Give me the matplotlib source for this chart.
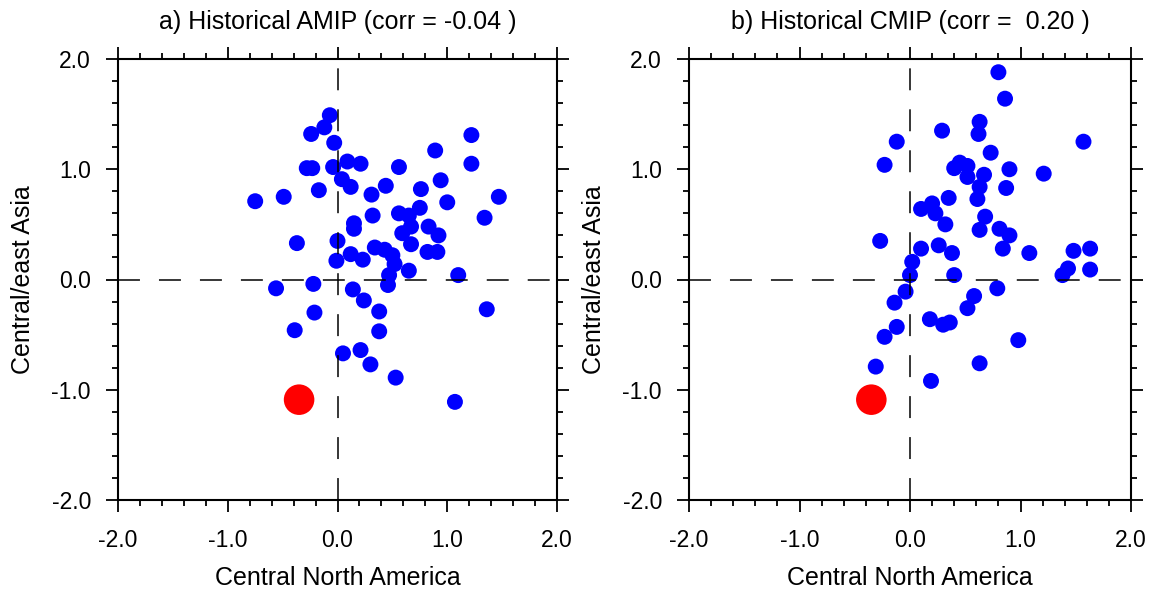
import matplotlib
matplotlib.use("Agg")
import matplotlib.pyplot as plt
from matplotlib.ticker import MultipleLocator, FormatStrFormatter

plt.rcParams['font.family'] = ['Liberation Sans', 'DejaVu Sans']
plt.rcParams['lines.scale_dashes'] = False

# ---- data ----
amip_x = [-0.07, -0.12, -0.24, -0.03, -0.28, -0.23, -0.04, 0.09, 0.21, 0.56,
          0.89, 1.22, 1.22, 0.04, 0.12, -0.17, 0.44, 0.31, 0.76, 0.94,
          1.00, 1.47, -0.75, -0.49, 0.32, 0.56, 0.65, 0.75, 1.34, 0.15,
          0.15, 0.67, 0.59, 0.83, 0.92, -0.37, 0.00, 0.67, 0.82, 0.91,
          -0.01, 0.12, 0.23, 0.34, 0.43, 0.50, 0.52, 0.47, 0.65, 1.10,
          -0.56, -0.22, 0.14, 0.46, 0.24, 0.38, -0.21, 1.36, -0.39, 0.38,
          0.05, 0.21, 0.30, 0.53, 1.07]
amip_y = [1.49, 1.38, 1.32, 1.24, 1.01, 1.01, 1.02, 1.07, 1.05, 1.02,
          1.17, 1.31, 1.05, 0.91, 0.84, 0.81, 0.85, 0.77, 0.82, 0.90,
          0.70, 0.75, 0.71, 0.75, 0.58, 0.60, 0.58, 0.65, 0.56, 0.51,
          0.46, 0.48, 0.42, 0.48, 0.40, 0.33, 0.35, 0.32, 0.25, 0.25,
          0.17, 0.23, 0.18, 0.29, 0.27, 0.22, 0.14, 0.04, 0.08, 0.04,
          -0.08, -0.04, -0.09, -0.05, -0.19, -0.29, -0.30, -0.27, -0.46, -0.47,
          -0.67, -0.64, -0.77, -0.89, -1.11]

cmip_x = [0.80, 0.86, 0.63, 0.62, 0.29, -0.12, 1.57, -0.23, 0.73, 0.45,
          0.40, 0.52, 0.52, 0.67, 0.90, 1.21, 0.63, 0.87, 0.61, 0.35,
          0.10, 0.20, 0.23, 0.68, 0.32, 0.63, 0.81, 0.90, 0.84, -0.27,
          0.10, 0.26, 0.38, 1.08, 1.48, 1.63, 0.02, 0.00, 0.40, 1.43,
          1.38, 1.63, -0.04, 0.79, -0.14, 0.58, 0.52, 0.18, 0.30, 0.36,
          -0.12, -0.23, 0.98, -0.31, 0.63, 0.19]
cmip_y = [1.88, 1.64, 1.43, 1.32, 1.35, 1.25, 1.25, 1.04, 1.15, 1.06,
          1.01, 1.03, 0.93, 0.95, 1.00, 0.96, 0.84, 0.83, 0.73, 0.74,
          0.64, 0.69, 0.60, 0.57, 0.50, 0.45, 0.46, 0.40, 0.28, 0.35,
          0.28, 0.31, 0.24, 0.24, 0.26, 0.28, 0.16, 0.04, 0.04, 0.10,
          0.04, 0.09, -0.11, -0.08, -0.21, -0.15, -0.26, -0.36, -0.41, -0.39,
          -0.43, -0.52, -0.55, -0.79, -0.76, -0.92]

obs_x = [-0.35]
obs_y = [-1.09]

titles = ["a) Historical AMIP (corr = -0.04 )", "b) Historical CMIP (corr =  0.20 )"]
xlabel = "Central North America"
ylabel = "Central/east Asia"

# ---- figure ----
W, H = 1156, 594
fig = plt.figure(figsize=(W / 100, H / 100), dpi=100)

panels = [
    (118, 439, amip_x, amip_y, titles[0]),
    (689, 442, cmip_x, cmip_y, titles[1]),
]
top_px, bot_px = 59, 500

for left, width, xs, ys, title in panels:
    ax = fig.add_axes([left / W, (H - bot_px) / H, width / W, (bot_px - top_px) / H])
    ax.scatter(xs, ys, s=132, color='#0000ff', edgecolors='none', zorder=2)
    ax.scatter(obs_x, obs_y, s=484, color='#ff0000', edgecolors='none', zorder=2)
    ax.axhline(0, color='black', lw=1.1, linestyle=(0, (15.8, 13.7)), zorder=3)
    ax.axvline(0, color='black', lw=1.1, linestyle=(0, (15.8, 13.7)), zorder=3)
    ax.set_xlim(-2, 2)
    ax.set_ylim(-2, 2)
    for axis in (ax.xaxis, ax.yaxis):
        axis.set_major_locator(MultipleLocator(1.0))
        axis.set_minor_locator(MultipleLocator(0.2))
        axis.set_major_formatter(FormatStrFormatter('%.1f'))
    ax.tick_params(which='both', direction='out', top=True, right=True,
                   labelsize=16.5, width=1.3, color='black')
    ax.tick_params(which='major', length=8.5)
    ax.tick_params(axis='x', which='major', pad=12.5)
    ax.tick_params(axis='y', which='major', pad=11)
    ax.tick_params(which='minor', length=4)
    for sp in ax.spines.values():
        sp.set_linewidth(1.5)
    ax.set_xlabel(xlabel, fontsize=18, labelpad=10)
    ax.set_ylabel(ylabel, fontsize=18, labelpad=12)
    fig.text((left + width / 2) / W, 1 - 22 / H, title, fontsize=18,
             ha='center', va='center')

fig.savefig("out.png", dpi=100)
